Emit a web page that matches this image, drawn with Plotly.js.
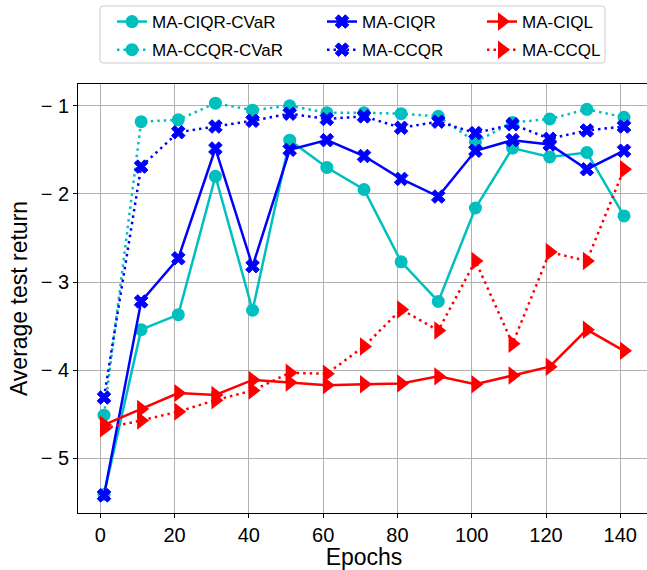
<!DOCTYPE html>
<html>
<head>
<meta charset="utf-8">
<script src="https://cdn.plot.ly/plotly-3.0.1.min.js"></script>
<style>
html, body { margin: 0; padding: 0; overflow: hidden; background: #fff; }
#chart { width: 652px; height: 570px; }
</style>
</head>
<body>
<div id="chart"></div>
<script>
// ---- data ----
const epochs = [1, 11, 21, 31, 41, 51, 61, 71, 81, 91, 101, 111, 121, 131, 141];
const ciqrCvar = [-5.41, -3.54, -3.37, -1.80, -3.32, -1.39, -1.70, -1.95, -2.77, -3.22, -2.16, -1.48, -1.58, -1.53, -2.25];
const ccqrCvar = [-4.51, -1.18, -1.16, -0.97, -1.05, -1.00, -1.08, -1.08, -1.09, -1.12, -1.41, -1.19, -1.15, -1.04, -1.13];
const ciqr     = [-5.42, -3.22, -2.73, -1.485, -2.82, -1.50, -1.39, -1.57, -1.83, -2.03, -1.51, -1.39, -1.44, -1.72, -1.51];
const ccqr     = [-4.31, -1.69, -1.30, -1.235, -1.17, -1.09, -1.15, -1.12, -1.25, -1.18, -1.31, -1.21, -1.375, -1.28, -1.235];
const ciql     = [-4.62, -4.44, -4.26, -4.28, -4.11, -4.14, -4.17, -4.16, -4.15, -4.07, -4.16, -4.06, -3.96, -3.54, -3.78];
const ccql     = [-4.66, -4.57, -4.47, -4.34, -4.23, -4.03, -4.04, -3.73, -3.31, -3.55, -2.76, -3.70, -2.66, -2.76, -1.72];
const seriesNames = ['MA-CIQR-CVaR', 'MA-CCQR-CVaR', 'MA-CIQR', 'MA-CCQR', 'MA-CIQL', 'MA-CCQL'];
const xTickVals = [0, 20, 40, 60, 80, 100, 120, 140];
const yTickVals = [-1, -2, -3, -4, -5];
const yTickText = ['\u2212 1', '\u2212 2', '\u2212 3', '\u2212 4', '\u2212 5'];

// ---- styles ----
const CYAN = '#00BFBF', BLUE = '#0000FF', RED = '#FF0000';
const DOT = '2.5px,4px';
const W = 652, H = 570;
const M = { l: 78, r: 2, t: 84, b: 57 };

function tr(y, name, color, dash, symbol, size, legend) {
  return {
    x: epochs, y: y, name: name, type: 'scatter', mode: 'lines+markers',
    line: { color: color, width: 2.5, dash: dash },
    marker: { color: color, symbol: symbol, size: size, line: { width: symbol === 'x' ? 1 : 0, color: color } },
    legend: legend, legendgroup: name, hoverinfo: 'skip'
  };
}

const data = [
  tr(ciqrCvar, seriesNames[0], CYAN, 'solid', 'circle', 13, 'legend'),
  tr(ccqrCvar, seriesNames[1], CYAN, DOT, 'circle', 13, 'legend'),
  tr(ciqr, seriesNames[2], BLUE, 'solid', 'x', 12, 'legend2'),
  tr(ccqr, seriesNames[3], BLUE, DOT, 'x', 12, 'legend2'),
  tr(ciql, seriesNames[4], RED, 'solid', 'triangle-right', 16, 'legend3'),
  tr(ccql, seriesNames[5], RED, DOT, 'triangle-right', 16, 'legend3')
];

const pw = W - M.l - M.r, ph = H - M.t - M.b;
function px2x(px) { return (px - M.l) / pw; }
function px2y(py) { return (H - M.b - py) / ph; }

// rounded legend frame (pixel coords -> paper)
function roundedRect(x0, y0, x1, y1, r) {
  const X = px2x, Y = px2y;
  return 'M' + X(x0 + r) + ',' + Y(y0) +
    ' L' + X(x1 - r) + ',' + Y(y0) +
    ' Q' + X(x1) + ',' + Y(y0) + ' ' + X(x1) + ',' + Y(y0 + r) +
    ' L' + X(x1) + ',' + Y(y1 - r) +
    ' Q' + X(x1) + ',' + Y(y1) + ' ' + X(x1 - r) + ',' + Y(y1) +
    ' L' + X(x0 + r) + ',' + Y(y1) +
    ' Q' + X(x0) + ',' + Y(y1) + ' ' + X(x0) + ',' + Y(y1 - r) +
    ' L' + X(x0) + ',' + Y(y0 + r) +
    ' Q' + X(x0) + ',' + Y(y0) + ' ' + X(x0 + r) + ',' + Y(y0) + ' Z';
}

const FONT = 'Liberation Sans, Arial, sans-serif';
const legBase = {
  orientation: 'v', xanchor: 'left', yanchor: 'top', y: px2y(4),
  bgcolor: 'rgba(0,0,0,0)', borderwidth: 0, tracegroupgap: 3,
  font: { family: FONT, size: 17, color: '#000' }
};

const layout = {
  width: W, height: H,
  margin: M,
  paper_bgcolor: '#fff', plot_bgcolor: '#fff',
  font: { family: FONT, color: '#000' },
  showlegend: true,
  legend: Object.assign({}, legBase, { x: px2x(112) }),
  legend2: Object.assign({}, legBase, { x: px2x(322) }),
  legend3: Object.assign({}, legBase, { x: px2x(482) }),
  xaxis: {
    range: [-6, 148], tickvals: xTickVals, ticks: 'outside', ticklen: 4, tickwidth: 1, tickcolor: '#000',
    showgrid: true, gridcolor: '#b0b0b0', gridwidth: 1, zeroline: false,
    showline: true, linecolor: '#000', linewidth: 1, mirror: true,
    tickfont: { family: FONT, size: 20, color: '#000' },
    title: { text: 'Epochs', font: { family: FONT, size: 23, color: '#000' }, standoff: 2 }
  },
  yaxis: {
    range: [-5.62, -0.753], tickvals: yTickVals, ticktext: yTickText, ticks: 'outside', ticklen: 4, tickwidth: 1, tickcolor: '#000',
    showgrid: true, gridcolor: '#b0b0b0', gridwidth: 1, zeroline: false,
    showline: true, linecolor: '#000', linewidth: 1, mirror: true,
    tickfont: { family: FONT, size: 20, color: '#000' },
    title: { text: 'Average test return', font: { family: FONT, size: 23, color: '#000' }, standoff: 6 }
  },
  shapes: [{
    type: 'path', xref: 'paper', yref: 'paper',
    path: roundedRect(100, 6, 605, 63, 3),
    line: { color: '#cccccc', width: 1 }, fillcolor: 'rgba(255,255,255,0.8)', layer: 'above'
  }]
};

Plotly.newPlot('chart', data, layout, { staticPlot: true, displayModeBar: false });
</script>
</body>
</html>
